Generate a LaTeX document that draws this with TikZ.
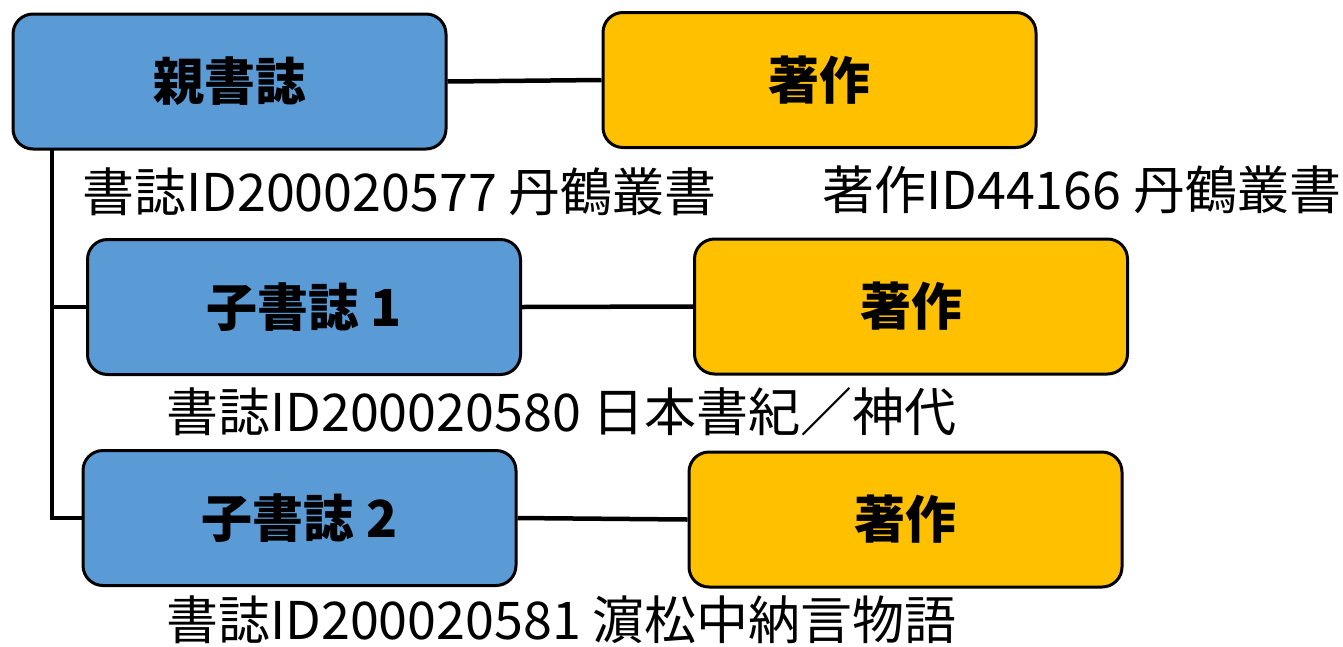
\documentclass[tikz,border=0pt]{standalone}
\usepackage{fontspec}
\setmainfont{Noto Sans CJK JP}
\tikzset{
  bib/.style={draw=black, line width=3pt, rounded corners=20pt, fill=blueF, minimum width=433pt, minimum height=135pt, font=\fontsize{51}{55}\selectfont\bfseries, inner sep=0pt},
  work/.style={bib, fill=orangeF},
  lbl/.style={anchor=west, inner sep=0pt, font=\fontsize{52}{56}\selectfont},
  link/.style={line width=4.5pt}
}
\definecolor{blueF}{HTML}{5B9BD5}
\definecolor{orangeF}{HTML}{FFC000}
\begin{document}
\begin{tikzpicture}[x=1pt,y=-1pt]
\useasboundingbox (0,0) rectangle (1343,646);
\node[bib] (p) at (229.5,81.5) {親書誌};
\node[work] (w1) at (819.5,80) {著作};
\node[bib] (c1) at (304,307) {子書誌 1};
\node[work] (w2) at (911,306.5) {著作};
\node[bib] (c2) at (299.5,518) {子書誌 2};
\node[work] (w3) at (905.5,519.5) {著作};
\node[lbl] (l1) at (82,192) {書誌ID200020577 丹鶴叢書};
\node[lbl] (l0) at (822,190) {著作ID44166 丹鶴叢書};
\node[lbl] (l2) at (166,412) {書誌ID200020580 日本書紀／神代};
\node[lbl] (l3) at (166,620) {書誌ID200020581 濵松中納言物語};
\draw[link] (p.east) -- (w1.west);
\draw[link] (c1.east) -- (w2.west);
\draw[link] (c2.east) -- (w3.west);
\coordinate (top) at (52,149);
\draw[link] (top) |- (c2.west);
\draw[link] (c1.west -| top) -- (c1.west);
\end{tikzpicture}
\end{document}
